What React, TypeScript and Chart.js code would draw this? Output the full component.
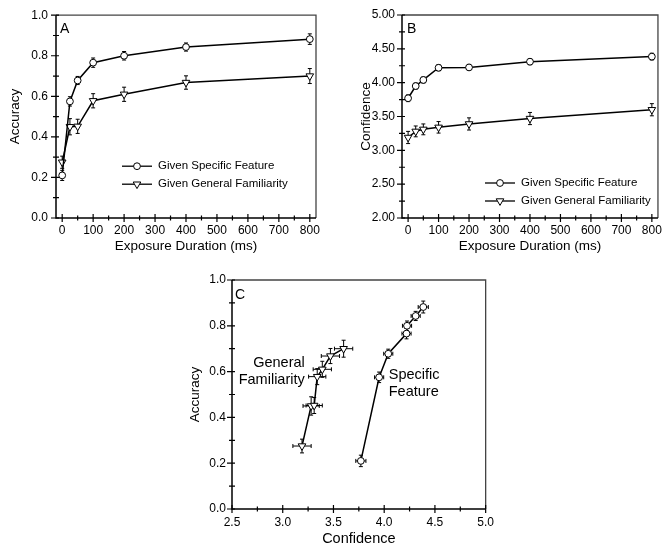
import React, { useEffect, useRef } from 'react';
import { Chart, registerables } from 'chart.js';

Chart.register(...registerables);

// ---------------- data ----------------
const durations = [0, 25, 50, 100, 200, 400, 800];

const accuracySpecific = [0.21, 0.575, 0.678, 0.766, 0.8, 0.843, 0.882];
const accuracySpecificErr = [0.025, 0.023, 0.02, 0.023, 0.021, 0.02, 0.026];
const accuracyGeneral = [0.275, 0.45, 0.452, 0.578, 0.61, 0.668, 0.7];
const accuracyGeneralErr = [0.03, 0.04, 0.035, 0.035, 0.035, 0.033, 0.037];

const confidenceSpecific = [3.77, 3.95, 4.04, 4.22, 4.225, 4.31, 4.385];
const confidenceSpecificErr = [0.05, 0.045, 0.045, 0.045, 0.045, 0.045, 0.05];
const confidenceGeneral = [3.19, 3.28, 3.31, 3.34, 3.39, 3.47, 3.6];
const confidenceGeneralErr = [0.09, 0.08, 0.08, 0.085, 0.09, 0.09, 0.09];

const durationTicks = [0, 100, 200, 300, 400, 500, 600, 700, 800];
const accuracyTicks = [0, 0.2, 0.4, 0.6, 0.8, 1.0];
const confidenceTicksB = [2, 2.5, 3, 3.5, 4, 4.5, 5];
const confidenceTicksC = [2.5, 3, 3.5, 4, 4.5, 5];

const seriesNames = ['Given Specific Feature', 'Given General Familiarity'];
const panelLetters = ['A', 'B', 'C'];
const durationTitle = 'Exposure Duration (ms)';
const accuracyTitle = 'Accuracy';
const confidenceTitle = 'Confidence';
const noteGeneral = ['General', 'Familiarity'];
const noteSpecific = ['Specific', 'Feature'];
// note anchors in data units (confidence, accuracy)
const noteGeneralAt = [3.217, 0.638];
const noteSpecificAt = [4.045, 0.586];

// ---------------- helpers ----------------
const FONT = "'Liberation Sans', Arial, Helvetica, sans-serif";
Chart.defaults.font.family = FONT;
Chart.defaults.color = '#000';

const midpoints = (arr: number[]) => arr.slice(0, -1).map((v, i) => (v + arr[i + 1]) / 2);

const pts = (xs: number[], ys: number[]) => xs.map((x, i) => ({ x, y: ys[i] }));

function drawMarker(ctx: CanvasRenderingContext2D, style: string, x: number, y: number, r: number) {
  ctx.beginPath();
  if (style === 'circle') {
    ctx.arc(x, y, r, 0, Math.PI * 2);
  } else {
    // downward triangle
    ctx.moveTo(x, y + r);
    ctx.lineTo(x - 0.866 * r, y - 0.5 * r);
    ctx.lineTo(x + 0.866 * r, y - 0.5 * r);
    ctx.closePath();
  }
  ctx.fillStyle = '#fff';
  ctx.fill();
  ctx.strokeStyle = '#000';
  ctx.lineWidth = 1;
  ctx.stroke();
}

type Cfg = {
  letter: string;
  letterDx: number;
  letterDy: number;
  xMinor: number[];
  yMinor: number[];
  xMajor: number[];
  yMajor: number[];
  legend?: { dx: number; dy: number; gap: number };
  notes?: { lines: string[]; at: number[]; align: CanvasTextAlign; lh: number }[];
};

function makePlugin(cfg: Cfg) {
  return {
    id: 'panel' + cfg.letter,
    beforeDatasetsDraw(chart: any) {
      const ctx: CanvasRenderingContext2D = chart.ctx;
      const xs = chart.scales.x;
      const ys = chart.scales.y;
      ctx.save();
      ctx.strokeStyle = '#000';
      ctx.lineWidth = 1;
      chart.data.datasets.forEach((ds: any) => {
        ds.data.forEach((p: any, i: number) => {
          const px = xs.getPixelForValue(p.x);
          const py = ys.getPixelForValue(p.y);
          const cap = 2;
          if (ds.errY) {
            const e = ds.errY[i];
            const y1 = ys.getPixelForValue(p.y - e);
            const y2 = ys.getPixelForValue(p.y + e);
            ctx.beginPath();
            ctx.moveTo(px, y1); ctx.lineTo(px, y2);
            ctx.moveTo(px - cap, y1); ctx.lineTo(px + cap, y1);
            ctx.moveTo(px - cap, y2); ctx.lineTo(px + cap, y2);
            ctx.stroke();
          }
          if (ds.errX) {
            const e = ds.errX[i];
            const x1 = xs.getPixelForValue(p.x - e);
            const x2 = xs.getPixelForValue(p.x + e);
            ctx.beginPath();
            ctx.moveTo(x1, py); ctx.lineTo(x2, py);
            ctx.moveTo(x1, py - cap); ctx.lineTo(x1, py + cap);
            ctx.moveTo(x2, py - cap); ctx.lineTo(x2, py + cap);
            ctx.stroke();
          }
        });
      });
      ctx.restore();
    },
    afterDraw(chart: any) {
      const ctx: CanvasRenderingContext2D = chart.ctx;
      const { left, right, top, bottom } = chart.chartArea;
      const xs = chart.scales.x;
      const ys = chart.scales.y;
      ctx.save();
      // frame
      ctx.lineWidth = 1.3;
      ctx.strokeStyle = '#444';
      ctx.beginPath();
      ctx.moveTo(left, top); ctx.lineTo(right, top); ctx.lineTo(right, bottom);
      ctx.stroke();
      ctx.lineWidth = 1.5;
      ctx.strokeStyle = '#000';
      ctx.beginPath();
      ctx.moveTo(left, top); ctx.lineTo(left, bottom); ctx.lineTo(right, bottom);
      ctx.stroke();
      // ticks
      ctx.lineWidth = 1.2;
      ctx.beginPath();
      cfg.xMajor.forEach((v) => {
        const p = xs.getPixelForValue(v);
        ctx.moveTo(p, bottom - 4); ctx.lineTo(p, bottom + 4);
      });
      cfg.xMinor.forEach((v) => {
        const p = xs.getPixelForValue(v);
        ctx.moveTo(p, bottom - 2.5); ctx.lineTo(p, bottom + 2.5);
      });
      cfg.yMajor.forEach((v) => {
        const p = ys.getPixelForValue(v);
        ctx.moveTo(left - 5, p); ctx.lineTo(left + 3, p);
      });
      cfg.yMinor.forEach((v) => {
        const p = ys.getPixelForValue(v);
        ctx.moveTo(left - 3, p); ctx.lineTo(left + 3, p);
      });
      ctx.stroke();
      // panel letter
      ctx.fillStyle = '#000';
      ctx.font = `14px ${FONT}`;
      ctx.textAlign = 'left';
      ctx.textBaseline = 'middle';
      ctx.fillText(cfg.letter, left + cfg.letterDx, top + cfg.letterDy);
      // legend
      if (cfg.legend) {
        const lg = cfg.legend;
        chart.data.datasets.forEach((ds: any, i: number) => {
          const x0 = left + lg.dx;
          const y0 = top + lg.dy + i * lg.gap;
          ctx.strokeStyle = '#000';
          ctx.lineWidth = 1.3;
          ctx.beginPath();
          ctx.moveTo(x0, y0); ctx.lineTo(x0 + 30, y0);
          ctx.stroke();
          drawMarker(ctx, ds.pointStyle, x0 + 15, y0, ds.pointRadius);
          ctx.fillStyle = '#000';
          ctx.font = `11.5px ${FONT}`;
          ctx.textAlign = 'left';
          ctx.textBaseline = 'middle';
          ctx.fillText(ds.label, x0 + 36, y0);
        });
      }
      // notes
      (cfg.notes || []).forEach((n) => {
        const x = xs.getPixelForValue(n.at[0]);
        const y = ys.getPixelForValue(n.at[1]);
        ctx.fillStyle = '#000';
        ctx.font = `14.5px ${FONT}`;
        ctx.textAlign = n.align;
        ctx.textBaseline = 'middle';
        n.lines.forEach((t, i) => ctx.fillText(t, x, y + i * n.lh));
      });
      ctx.restore();
    },
  };
}

function scaleX(opts: any) {
  return {
    type: 'linear',
    min: opts.min,
    max: opts.max,
    afterBuildTicks: (s: any) => {
      s.ticks = opts.ticks.map((v: number) => ({ value: v }));
    },
    afterFit: (s: any) => {
      s.height = opts.height;
    },
    grid: { display: false, drawTicks: false },
    border: { display: false },
    ticks: {
      autoSkip: false,
      maxRotation: 0,
      padding: opts.pad,
      font: { size: 12 },
      color: '#000',
      callback: opts.fmt,
    },
    title: {
      display: true,
      text: opts.title,
      color: '#000',
      font: { size: opts.titleSize || 13.5, lineHeight: opts.titleLH || 1.2 },
      padding: { top: 0, bottom: opts.titlePad },
    },
  };
}

function scaleY(opts: any) {
  return {
    type: 'linear',
    min: opts.min,
    max: opts.max,
    afterBuildTicks: (s: any) => {
      s.ticks = opts.ticks.map((v: number) => ({ value: v }));
    },
    afterFit: (s: any) => {
      s.width = opts.width;
    },
    grid: { display: false, drawTicks: false },
    border: { display: false },
    ticks: {
      autoSkip: false,
      padding: opts.pad,
      font: { size: 12 },
      color: '#000',
      callback: opts.fmt,
    },
    title: {
      display: true,
      text: opts.title,
      color: '#000',
      font: { size: 13.5 },
      padding: { top: opts.titlePad, bottom: 0 },
    },
  };
}

const seriesStyle = (style: string) => ({
  borderColor: '#000',
  borderWidth: 1.5,
  pointStyle: style,
  pointRadius: style === 'circle' ? 3.4 : 4.4,
  pointRotation: style === 'circle' ? 0 : 180,
  pointBackgroundColor: '#fff',
  pointBorderColor: '#000',
  pointBorderWidth: 1,
  fill: false,
  tension: 0,
});

const baseOptions = (padding: any, scales: any) => ({
  responsive: false,
  animation: false,
  devicePixelRatio: 1,
  layout: { padding },
  plugins: { legend: { display: false }, tooltip: { enabled: false } },
  scales,
});

function configA() {
  return {
    type: 'line',
    data: {
      datasets: [
        { label: seriesNames[0], data: pts(durations, accuracySpecific), errY: accuracySpecificErr, ...seriesStyle('circle') },
        { label: seriesNames[1], data: pts(durations, accuracyGeneral), errY: accuracyGeneralErr, ...seriesStyle('triangle') },
      ],
    },
    options: baseOptions(
      { top: 15, right: 17, left: 0, bottom: 0 },
      {
        x: scaleX({ min: -20, max: 820, ticks: durationTicks, height: 44, pad: 5, fmt: (v: number) => String(v), title: durationTitle, titlePad: 8 }),
        y: scaleY({ min: 0, max: 1, ticks: accuracyTicks, width: 56, pad: 8, fmt: (v: number) => v.toFixed(1), title: accuracyTitle, titlePad: 7 }),
      }
    ),
    plugins: [
      makePlugin({
        letter: panelLetters[0], letterDx: 4, letterDy: 13.5,
        xMajor: durationTicks, xMinor: midpoints(durationTicks),
        yMajor: accuracyTicks, yMinor: midpoints(accuracyTicks),
        legend: { dx: 66, dy: 151, gap: 18 },
      }),
    ],
  };
}

function configB() {
  return {
    type: 'line',
    data: {
      datasets: [
        { label: seriesNames[0], data: pts(durations, confidenceSpecific), errY: confidenceSpecificErr, ...seriesStyle('circle') },
        { label: seriesNames[1], data: pts(durations, confidenceGeneral), errY: confidenceGeneralErr, ...seriesStyle('triangle') },
      ],
    },
    options: baseOptions(
      { top: 15, right: 3, left: 0, bottom: 0 },
      {
        x: scaleX({ min: -20, max: 820, ticks: durationTicks, height: 44, pad: 5, fmt: (v: number) => String(v), title: durationTitle, titlePad: 8 }),
        y: scaleY({ min: 2, max: 5, ticks: confidenceTicksB, width: 62, pad: 7, fmt: (v: number) => v.toFixed(2), title: confidenceTitle, titlePad: 18.6 }),
      }
    ),
    plugins: [
      makePlugin({
        letter: panelLetters[1], letterDx: 5, letterDy: 14,
        xMajor: durationTicks, xMinor: midpoints(durationTicks),
        yMajor: confidenceTicksB, yMinor: midpoints(confidenceTicksB),
        legend: { dx: 83, dy: 168, gap: 18 },
      }),
    ],
  };
}

function configC() {
  return {
    type: 'line',
    data: {
      datasets: [
        {
          label: seriesNames[0], data: pts(confidenceSpecific, accuracySpecific),
          errX: confidenceSpecificErr, errY: accuracySpecificErr, ...seriesStyle('circle'),
        },
        {
          label: seriesNames[1], data: pts(confidenceGeneral, accuracyGeneral),
          errX: confidenceGeneralErr, errY: accuracyGeneralErr, ...seriesStyle('triangle'),
        },
      ],
    },
    options: baseOptions(
      { top: 15, right: 8, left: 0, bottom: 0 },
      {
        x: scaleX({ min: 2.5, max: 5, ticks: confidenceTicksC, height: 37, pad: 6, fmt: (v: number) => v.toFixed(1), title: confidenceTitle, titlePad: 0, titleLH: 1, titleSize: 14.5 }),
        y: scaleY({ min: 0, max: 1, ticks: accuracyTicks, width: 52, pad: 6, fmt: (v: number) => v.toFixed(1), title: accuracyTitle, titlePad: 7 }),
      }
    ),
    plugins: [
      makePlugin({
        letter: panelLetters[2], letterDx: 3, letterDy: 15.5,
        xMajor: confidenceTicksC, xMinor: midpoints(confidenceTicksC),
        yMajor: accuracyTicks, yMinor: midpoints(accuracyTicks),
        notes: [
          { lines: noteGeneral, at: noteGeneralAt, align: 'right', lh: 17 },
          { lines: noteSpecific, at: noteSpecificAt, align: 'left', lh: 16.7 },
        ],
      }),
    ],
  };
}

function Panel(props: { build: () => any; left: number; top: number; width: number; height: number }) {
  const ref = useRef<HTMLCanvasElement>(null);
  useEffect(() => {
    const chart = new Chart(ref.current as HTMLCanvasElement, props.build());
    return () => chart.destroy();
  }, []);
  return (
    <canvas
      ref={ref}
      width={props.width}
      height={props.height}
      style={{ position: 'absolute', left: props.left, top: props.top, width: props.width, height: props.height }}
    />
  );
}

export default function App() {
  return (
    <div style={{ position: 'fixed', left: 0, top: 0, width: 667, height: 546, background: '#fff', overflow: 'hidden' }}>
      <Panel build={configA} left={0} top={0} width={333} height={262} />
      <Panel build={configB} left={340} top={0} width={327} height={262} />
      <Panel build={configC} left={180} top={265} width={320} height={281} />
    </div>
  );
}
